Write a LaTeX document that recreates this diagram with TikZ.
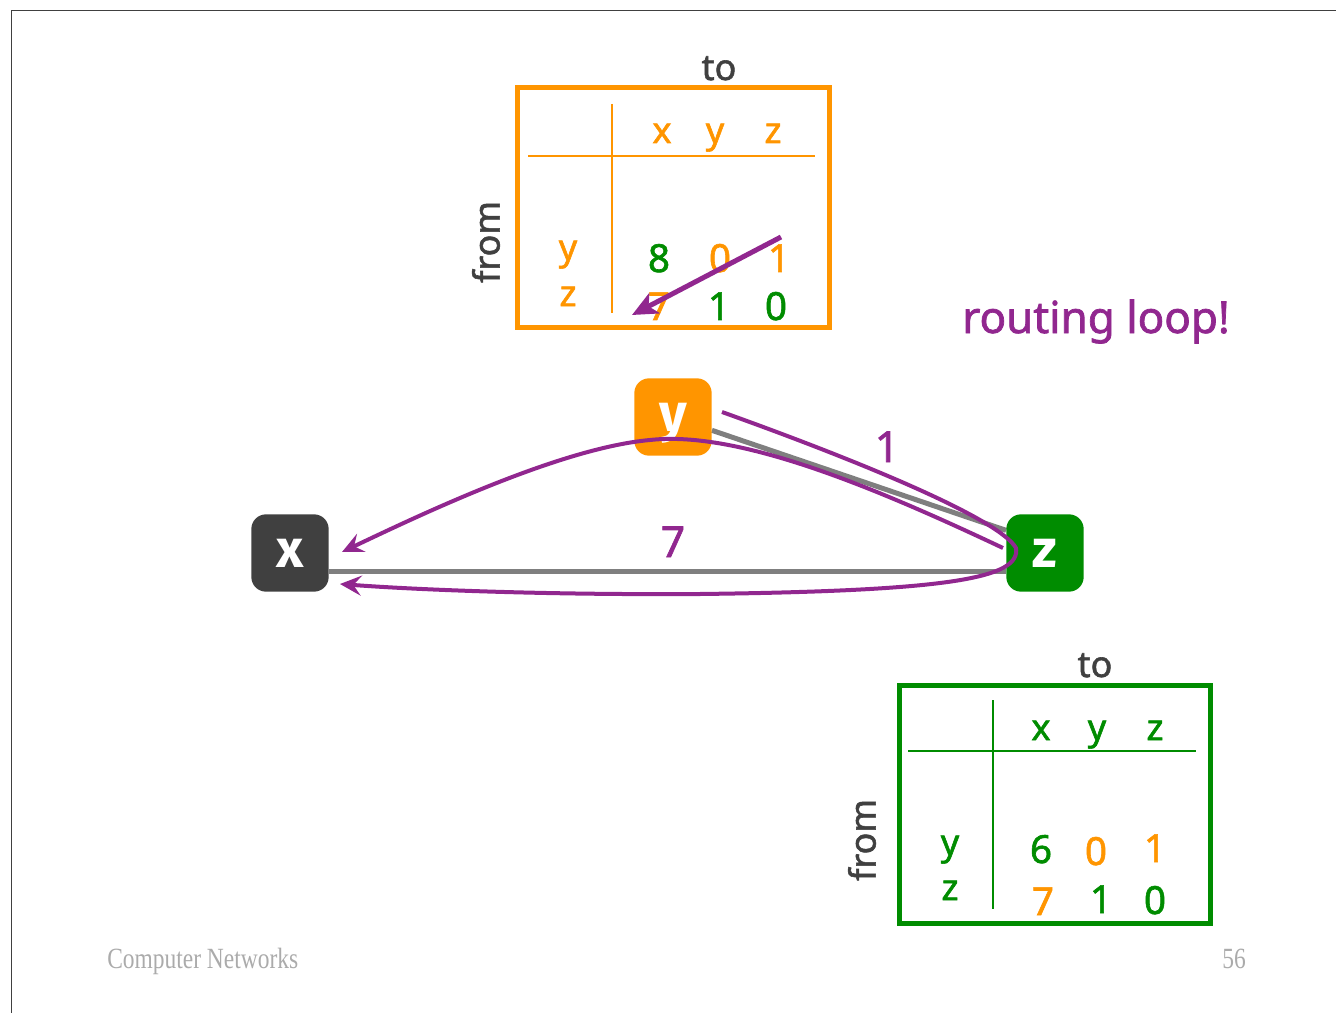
\documentclass[tikz,border=0pt]{standalone}
\usepackage{fontspec}
\setmainfont{Noto Sans}[FakeBold=1.6]
\newfontfamily\nodefont{Fira Sans}
\newfontfamily\footfont{Liberation Serif}
\usetikzlibrary{arrows.meta,backgrounds}
\definecolor{orng}{HTML}{FF9500}
\definecolor{grn}{HTML}{008C00}
\definecolor{dgray}{HTML}{404040}
\definecolor{purp}{HTML}{91278F}
\definecolor{egray}{HTML}{7F7F7F}
\definecolor{footc}{HTML}{ABABAB}
\begin{document}
\begin{tikzpicture}[x=0.75pt,y=-0.75pt,
  router/.style={rounded corners=11pt, minimum width=58pt, minimum height=58pt, inner sep=0pt, text=white, font=\nodefont\bfseries\fontsize{40}{40}\selectfont},
  link/.style={draw=egray, line width=3.75pt},
  purpath/.style={draw=purp, line width=3pt, -{Stealth[length=16pt,width=15pt,inset=6pt]}},
  tbox/.style={line width=3.75pt},
  tline/.style={line width=2.2pt},
  cell/.style={font=\fontsize{27}{27}\selectfont, inner sep=0pt, anchor=base},
  digit/.style={font=\fontsize{29}{29}\selectfont, inner sep=0pt, anchor=base},
  lbl/.style={font=\fontsize{27}{27}\selectfont, inner sep=0pt, text=dgray},
  weight/.style={font=\fontsize{32}{32}\selectfont, inner sep=0pt, text=purp, anchor=base},
  foot/.style={font=\footfont\fontsize{22}{22}\selectfont, inner sep=0pt, text=footc}
]
\useasboundingbox (0,0) rectangle (1336,1013);
\draw[dgray, line width=0.75pt] (1336,10.5) -- (11,10.5) -- (11,1013);

% ---------- top table (y) ----------
\draw[orng, tbox] (517,88) rectangle (829,327);
\draw[orng, tline] (528,156) -- (815,156);
\draw[orng, tline] (612,104) -- (612,313);
\node[lbl, anchor=base] (to1) at (719,80) {to};
\node[lbl, rotate=90] (from1) at (486,242) {from};
\node[cell, text=orng] (h1x) at (662,143) {x};
\node[cell, text=orng] (h1y) at (715,143) {y};
\node[cell, text=orng] (h1z) at (773,143) {z};
\node[cell, text=orng] (r1y) at (568,260) {y};
\node[cell, text=orng] (r1z) at (568,306) {z};
\node[digit, text=grn]  (a11) at (659,272) {8};
\node[digit, text=orng] (a12) at (720,272) {0};
\node[digit, text=orng] (a13) at (779,272) {1};
\node[digit, text=orng] (a21) at (659,320) {7};
\node[digit, text=grn]  (a22) at (719,320) {1};
\node[digit, text=grn]  (a23) at (776,320) {0};
\coordinate (tA) at (781,237);
\coordinate (tB) at (632,315);
\draw[purp, line width=3.75pt, -{Stealth[length=19pt,width=17pt,inset=5pt]}] (tA) -- (tB);

% ---------- bottom table (z) ----------
\draw[grn, tbox] (899,685) rectangle (1210,923);
\draw[grn, tline] (908,751) -- (1196,751);
\draw[grn, tline] (993,700) -- (993,909);
\node[lbl, anchor=base] (to2) at (1095,677) {to};
\node[lbl, rotate=90] (from2) at (862,840) {from};
\node[cell, text=grn] (h2x) at (1041,740) {x};
\node[cell, text=grn] (h2y) at (1097,740) {y};
\node[cell, text=grn] (h2z) at (1155,740) {z};
\node[cell, text=grn] (r2y) at (950,855) {y};
\node[cell, text=grn] (r2z) at (950,900) {z};
\node[digit, text=grn]  (b11) at (1041,863) {6};
\node[digit, text=orng] (b12) at (1096,865) {0};
\node[digit, text=orng] (b13) at (1155,862) {1};
\node[digit, text=orng] (b21) at (1043,915) {7};
\node[digit, text=grn]  (b22) at (1101,913) {1};
\node[digit, text=grn]  (b23) at (1155,914) {0};

% ---------- routers ----------
\node[router, fill=dgray] (x) at (290,553) {x};
\node[router, fill=orng, text height=22pt, text depth=0pt] (y) at (673,417) {y};
\node[router, fill=grn] (z) at (1045,553) {z};

\begin{scope}[on background layer]
\draw[link] ([yshift=-14pt]x.east) -- ([yshift=-14pt]z.west);
\draw[link] ([yshift=-10pt]y.east) -- ([yshift=17pt]z.west);
\end{scope}

\node[weight] (w1) at (887,462) {1};
\node[weight] (w7) at (673,557) {7};

% ---------- routing loop paths ----------
\coordinate (p1s) at (722,412);
\coordinate (p1r) at (1016,548);
\coordinate (p1b) at (700,594);
\coordinate (p1e) at (340,584);
\draw[purpath] (p1s) .. controls (870,465) and (1000,520) .. (p1r)
  .. controls (1021,578) and (950,591) .. (p1b)
  .. controls (550,595) and (420,590) .. (p1e);
\coordinate (p2s) at (1003,548);
\coordinate (p2t) at (650,440);
\coordinate (p2e) at (342,552);
\draw[purpath] (p2s) .. controls (880,490) and (740,430) .. (p2t)
  .. controls (560,448) and (420,515) .. (p2e);

\node[font=\fontsize{33}{33}\selectfont, text=purp, inner sep=0pt, anchor=base west] (rl) at (962,333) {routing loop!};

% ---------- footer ----------
\node[foot, anchor=base west] (ft1) at (107,968) {\scalebox{0.8}[1]{Computer Networks}};
\node[foot, anchor=base east] (ft2) at (1246,968) {\scalebox{0.8}[1]{56}};
\end{tikzpicture}
\end{document}
